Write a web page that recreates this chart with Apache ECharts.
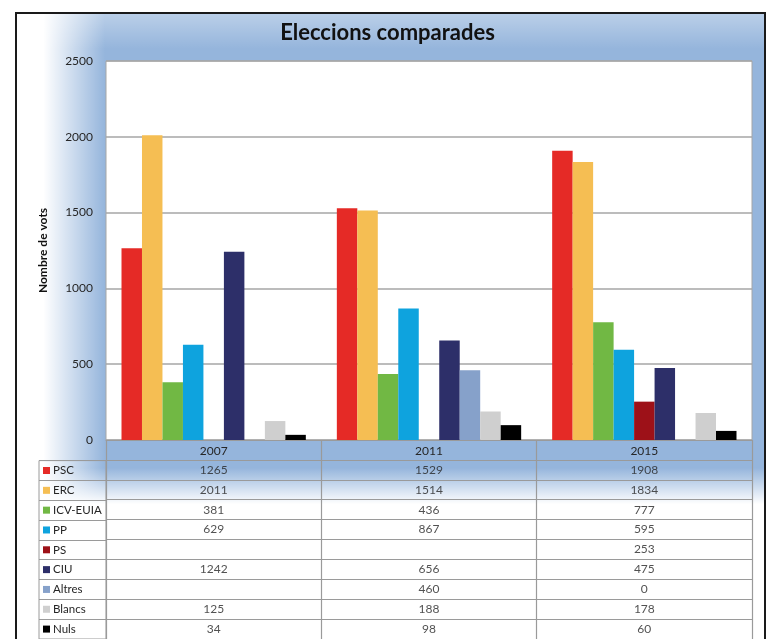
<!DOCTYPE html>
<html><head><meta charset="utf-8">
<script src="https://cdn.jsdelivr.net/npm/echarts@6/dist/echarts.min.js"></script>
<style>html,body{margin:0;padding:0;background:#fff}#c{width:775px;height:639px}</style>
</head><body><div id="c"></div>
<script>
const categories = ['2007', '2011', '2015'];
const seriesNames = ['PSC', 'ERC', 'ICV-EUIA', 'PP', 'PS', 'CIU', 'Altres', 'Blancs', 'Nuls'];
const PSC = [1265, 1529, 1908];
const ERC = [2011, 1514, 1834];
const ICV = [381, 436, 777];
const PP = [629, 867, 595];
const PS = [null, null, 253];
const CIU = [1242, 656, 475];
const Altres = [null, 460, 0];
const Blancs = [125, 188, 178];
const Nuls = [34, 98, 60];
const yTicks = [0, 500, 1000, 1500, 2000, 2500];
const colors = ['#e52a26', '#f5be53', '#71b844', '#0ea3de', '#9d1118', '#2d2f69', '#86a1ca', '#cfcfcf', '#000000'];

const allValues = [PSC, ERC, ICV, PP, PS, CIU, Altres, Blancs, Nuls];
const tableRows = [''].concat(seriesNames);
const FONT = 'Lato';
const TXT = '#262626';

const barSeries = seriesNames.map((n, i) => ({
  name: n, type: 'bar', xAxisIndex: 0, yAxisIndex: 0,
  data: allValues[i], barGap: '0%', barCategoryGap: '14.4%',
  itemStyle: { color: colors[i] }
}));

const cellData = [];
allValues.forEach((vals, i) => vals.forEach((v, j) => { if (v !== null) cellData.push([j, i + 1, v]); }));

const rich = { t: { fontFamily: FONT, fontSize: 11.5, color: TXT, padding: [0, 0, 0, 3] } };
colors.forEach((c, i) => { rich['c' + i] = { backgroundColor: c, width: 7, height: 7 }; });

const chart = echarts.init(document.getElementById('c'), null, { renderer: 'canvas' });
chart.setOption({
  animation: false,
  backgroundColor: '#ffffff',
  textStyle: { fontFamily: FONT },
  title: {
    text: 'Eleccions comparades', left: 'center', top: 17,
    textStyle: { fontFamily: FONT, fontSize: 22, fontWeight: 'bold', color: '#111' }
  },
  graphic: [
    { type: 'rect', z: -10, silent: true, shape: { x: 16, y: 13, width: 749, height: 700 }, style: { fill: '#95b5dc' } },
    { type: 'rect', z: -9, silent: true, shape: { x: 17, y: 14, width: 747, height: 35 },
      style: { fill: { type: 'linear', x: 0, y: 0, x2: 0, y2: 1, colorStops: [
        { offset: 0, color: 'rgba(255,255,255,0.35)' }, { offset: 1, color: 'rgba(255,255,255,0)' }] } } },
    { type: 'rect', z: -9, silent: true, shape: { x: 17, y: 14, width: 88, height: 700 },
      style: { fill: { type: 'linear', x: 0, y: 0, x2: 1, y2: 0, colorStops: [
        { offset: 0, color: 'rgba(255,255,255,1)' }, { offset: 0.3, color: 'rgba(255,255,255,1)' },
        { offset: 1, color: 'rgba(255,255,255,0)' }] } } },
    { type: 'rect', z: -9, silent: true, shape: { x: 17, y: 460, width: 747, height: 260 },
      style: { fill: { type: 'linear', x: 0, y: 0, x2: 0, y2: 1, colorStops: [
        { offset: 0, color: 'rgba(255,255,255,0)' }, { offset: 0.03, color: 'rgba(255,255,255,0)' },
        { offset: 0.17, color: 'rgba(255,255,255,1)' }, { offset: 1, color: 'rgba(255,255,255,1)' }] } } },
    { type: 'rect', z: 100, silent: true, shape: { x: 16, y: 13, width: 749, height: 700 },
      style: { fill: 'none', stroke: '#1a1a1a', lineWidth: 2 } }
  ],
  grid: [
    { left: 106, top: 61, width: 646, height: 379, show: true, backgroundColor: '#ffffff', borderColor: '#a6a6a6', borderWidth: 1 },
    { left: 106, top: 440, width: 646, height: 206, show: false },
    { left: 39, top: 460.6, width: 67, height: 185.4, show: true, borderColor: '#9a9a9a', borderWidth: 1 }
  ],
  xAxis: [
    { type: 'category', gridIndex: 0, data: categories,
      axisLine: { show: true, lineStyle: { color: '#9a9a9a' } }, axisTick: { show: false },
      axisLabel: { margin: 5, fontSize: 12, color: TXT, fontFamily: FONT } },
    { type: 'category', gridIndex: 1, data: categories, position: 'bottom',
      axisLine: { show: false }, axisTick: { show: false }, axisLabel: { show: false },
      splitLine: { show: true, lineStyle: { color: '#9a9a9a', width: 1.2 } } },
    { type: 'value', gridIndex: 2, show: false }
  ],
  yAxis: [
    { type: 'value', gridIndex: 0, min: 0, max: 2500, interval: 500,
      name: 'Nombre de vots', nameLocation: 'middle', nameGap: 57, nameRotate: 90,
      nameTextStyle: { fontFamily: FONT, fontSize: 12, fontWeight: 'bold', color: '#111' },
      axisLine: { show: false }, axisTick: { show: false },
      axisLabel: { margin: 13, fontSize: 12, color: TXT, fontFamily: FONT,
        formatter: v => (yTicks.indexOf(v) >= 0 ? String(v) : '') },
      splitLine: { show: true, lineStyle: { color: '#a6a6a6', width: 1.5 } } },
    { type: 'category', gridIndex: 1, data: tableRows, inverse: true,
      axisLine: { show: false }, axisTick: { show: false }, axisLabel: { show: false },
      splitLine: { show: true, lineStyle: { color: '#9a9a9a', width: 1.2 } } },
    { type: 'category', gridIndex: 2, data: seriesNames, inverse: true,
      axisLine: { show: false }, axisTick: { show: false },
      axisLabel: { inside: true, margin: 4, formatter: (v, i) => '{c' + i + '|}{t|' + v + '}', rich: rich },
      splitLine: { show: true, lineStyle: { color: '#9a9a9a', width: 1.2 } } }
  ],
  series: barSeries.concat([{
    type: 'scatter', xAxisIndex: 1, yAxisIndex: 1, data: cellData,
    symbol: 'rect', symbolSize: 1, itemStyle: { color: 'rgba(0,0,0,0)' },
    label: { show: true, position: 'inside', formatter: p => String(p.value[2]),
      fontFamily: FONT, fontSize: 12, color: TXT }
  }])
});
</script>
</body></html>
